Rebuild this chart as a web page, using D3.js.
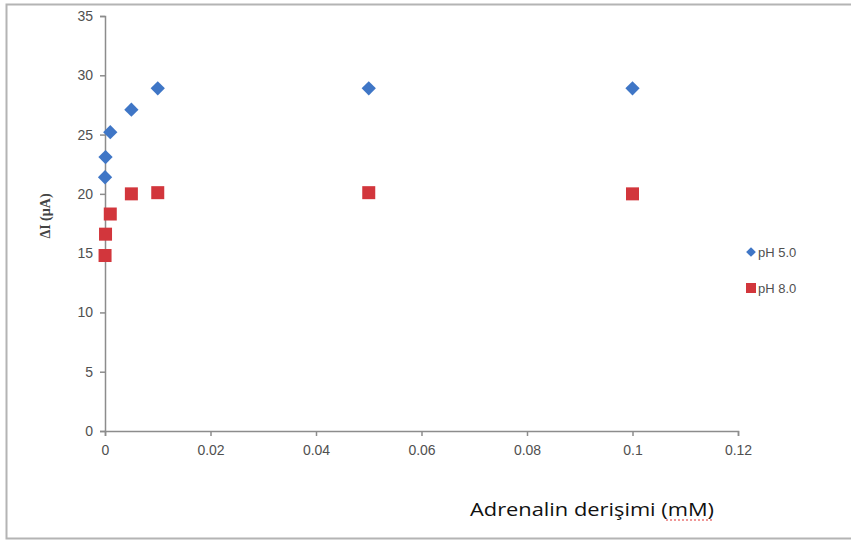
<!DOCTYPE html>
<html>
<head>
<meta charset="utf-8">
<script src="https://cdn.jsdelivr.net/npm/d3@7"></script>
<style>
  body { margin: 0; background: #fff; }
</style>
</head>
<body>
<div id="chart"></div>
<script>
const concentrations = [0.00001, 0.0001, 0.001, 0.005, 0.01, 0.05, 0.1];
const ph5Values = [21.4, 23.1, 25.2, 27.1, 28.9, 28.9, 28.9];
const ph8Values = [14.8, 16.6, 18.3, 20.0, 20.1, 20.1, 20.0];
const seriesNames = ['pH 5.0', 'pH 8.0'];
const xTicks = [0, 0.02, 0.04, 0.06, 0.08, 0.1, 0.12];
const yTicks = [0, 5, 10, 15, 20, 25, 30, 35];

const W = 851, H = 543;
const margin = {top: 16, right: 113, bottom: 112, left: 105};
const width = W - margin.left - margin.right;
const height = H - margin.top - margin.bottom;

const svg = d3.select('#chart')
  .append('svg')
  .attr('width', W)
  .attr('height', H)
  .style('font-family', '"Liberation Sans", Arial, sans-serif');

// outer frame (top, left, bottom only)
svg.append('path')
  .attr('d', 'M851,4.5 L6.5,4.5 L6.5,538.5 L851,538.5')
  .attr('fill', 'none')
  .attr('stroke', '#b4b4b4')
  .attr('stroke-width', 2);

const x = d3.scaleLinear().domain([0, 0.12]).range([0, width]);
const y = d3.scaleLinear().domain([0, 35]).range([height, 0]);

const g = svg.append('g')
  .attr('transform', `translate(${margin.left},${margin.top})`);

const xAxis = g.append('g')
  .attr('transform', `translate(0,${height})`)
  .call(d3.axisBottom(x).tickValues(xTicks).tickSize(5).tickPadding(9)
    .tickFormat(d => d === 0 ? '0' : String(+d.toFixed(2))));

const yAxis = g.append('g')
  .call(d3.axisLeft(y).tickValues(yTicks).tickSize(5).tickPadding(7));

[xAxis, yAxis].forEach(ax => {
  ax.attr('font-family', null).attr('font-size', null);
  ax.selectAll('path, line').attr('stroke', '#8c8c8c').attr('stroke-width', 1.5);
  ax.selectAll('text').attr('fill', '#505050').style('font-size', '14px');
});

// y axis title
svg.append('text')
  .attr('transform', 'translate(50,216) rotate(-90)')
  .attr('text-anchor', 'middle')
  .style('font-family', '"Liberation Serif", "Times New Roman", serif')
  .style('font-size', '14px')
  .style('font-weight', 'bold')
  .attr('fill', '#444')
  .text('ΔI (µA)');

// pH 5.0 diamonds
const diamond = d3.symbol().type(d3.symbolDiamond2).size(130);
g.selectAll('.ph5')
  .data(concentrations.map((c, i) => [c, ph5Values[i]]))
  .join('path')
  .attr('class', 'ph5')
  .attr('d', diamond)
  .attr('transform', d => `translate(${x(d[0])},${y(d[1])})`)
  .attr('fill', '#3f76c6');

// pH 8.0 squares
const sq = 13;
g.selectAll('.ph8')
  .data(concentrations.map((c, i) => [c, ph8Values[i]]))
  .join('rect')
  .attr('class', 'ph8')
  .attr('x', d => x(d[0]) - sq / 2)
  .attr('y', d => y(d[1]) - sq / 2)
  .attr('width', sq)
  .attr('height', sq)
  .attr('fill', '#d2363c');

// legend
const legend = svg.append('g').attr('transform', 'translate(751,252)');
legend.append('path')
  .attr('d', d3.symbol().type(d3.symbolDiamond2).size(60))
  .attr('fill', '#3f76c6');
legend.append('rect')
  .attr('x', -5).attr('y', 31).attr('width', 10).attr('height', 10)
  .attr('fill', '#d2363c');
legend.selectAll('text.lg')
  .data(seriesNames)
  .join('text')
  .attr('class', 'lg')
  .attr('x', 7)
  .attr('y', (d, i) => i * 36 + 5)
  .attr('fill', '#505050')
  .style('font-size', '13px')
  .text(d => d);

// x axis title
svg.append('text')
  .attr('x', 470)
  .attr('y', 516)
  .attr('fill', '#111')
  .attr('textLength', 244)
  .attr('lengthAdjust', 'spacingAndGlyphs')
  .style('font-family', '"Open Sans", "Liberation Sans", sans-serif')
  .style('font-size', '18px')
  .text('Adrenalin derişimi (mM)');

// spell-check squiggle under mM
svg.append('line')
  .attr('x1', 666).attr('x2', 713)
  .attr('y1', 520).attr('y2', 520)
  .attr('stroke', '#e03030')
  .attr('stroke-width', 1)
  .attr('stroke-dasharray', '2,2');
</script>
</body>
</html>
